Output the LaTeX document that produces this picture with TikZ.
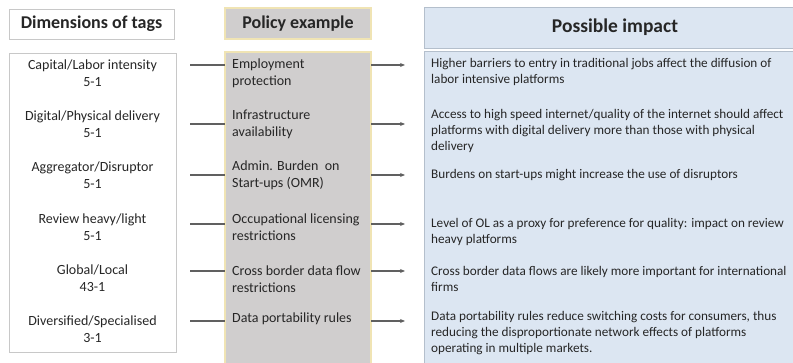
\documentclass[tikz,border=0pt]{standalone}
\usepackage{fontspec}
\setmainfont{Carlito}
\usetikzlibrary{arrows.meta}
\definecolor{polfill}{HTML}{D0CECE}
\definecolor{polborder}{HTML}{F0E4B4}
\definecolor{impfill}{HTML}{DCE6F2}
\definecolor{impborder}{HTML}{B4BFCC}
\definecolor{dimborder}{HTML}{C8C8C8}
\definecolor{txt}{HTML}{262626}
\definecolor{conn}{HTML}{606060}
\tikzset{
  hdr/.style={font=\fontsize{18}{20}\selectfont\bfseries, text=txt},
  dimtxt/.style={font=\fontsize{14}{17}\selectfont, text=txt, align=center, inner sep=0pt, anchor=center},
  poltxt/.style={font=\fontsize{14}{17}\selectfont, text=txt, align=left, inner sep=0pt, anchor=west},
  imptxt/.style={font=\fontsize{13.2}{16}\selectfont, text=txt, align=left, inner sep=0pt, anchor=west},
  link/.style={draw=conn, line width=1.3pt},
  arr/.style={draw=conn, line width=1.3pt, -{Stealth[length=5pt,width=4pt]}},
}
\begin{document}
\begin{tikzpicture}[x=1pt,y=-1pt]
\useasboundingbox (0,0) rectangle (793,363);
% header boxes
\draw[dimborder, line width=0.8pt, fill=white] (9,9) rectangle (174,39);
\draw[polborder, line width=1.2pt, fill=polfill] (225,8) rectangle (371,39);
\draw[impborder, line width=0.8pt, fill=impfill] (424,7) rectangle (806,48);
\node[hdr] (hdim) at (91.5,24) {Dimensions of tags};
\node[hdr] (hpol) at (298,23.5) {Policy example};
\node[hdr, font=\fontsize{19.5}{22}\selectfont\bfseries] (himp) at (615,27.5) {Possible impact};
% main boxes
\draw[dimborder, line width=0.8pt, fill=white] (9,53) rectangle (176,352);
\draw[polborder, line width=1.2pt, fill=polfill] (225,52) rectangle (371,370);
\draw[impborder, line width=0.8pt, fill=impfill] (424,51) rectangle (806,370);
\coordinate (midW) at (225,0);
\coordinate (midE) at (371,0);
% left column
\node[dimtxt] (d1) at (92.5,73) {Capital/Labor intensity\\5-1};
\node[dimtxt] (d2) at (92.5,124) {Digital/Physical delivery\\5-1};
\node[dimtxt] (d3) at (92.5,175) {Aggregator/Disruptor\\5-1};
\node[dimtxt] (d4) at (92.5,227) {Review heavy/light\\5-1};
\node[dimtxt] (d5) at (92.5,278.5) {Global/Local\\43-1};
\node[dimtxt] (d6) at (92.5,329) {Diversified/Specialised\\3-1};
% middle column
\node[poltxt] (p1) at (232,73.5) {Employment\\protection};
\node[poltxt] (p2) at (232,124.5) {Infrastructure\\availability};
\node[poltxt] (p3) at (232,175.5) {Admin. Burden~ on\\Start-ups (OMR)};
\node[poltxt] (p4) at (232,227.5) {Occupational licensing\\restrictions};
\node[poltxt] (p5) at (232,279) {Cross border data flow\\restrictions};
\node[poltxt] (p6) at (232,319) {Data portability rules};
% right column
\node[imptxt] (i1) at (431,72) {Higher barriers to entry in traditional jobs affect the diffusion of\\labor intensive platforms};
\node[imptxt] (i2) at (431,131) {Access to high speed internet/quality of the internet should affect\\platforms with digital delivery more than those with physical\\delivery};
\node[imptxt] (i3) at (431,175) {Burdens on start-ups might increase the use of disruptors};
\node[imptxt] (i4) at (431,232) {Level of OL as a proxy for preference for quality: impact on review\\heavy platforms};
\node[imptxt] (i5) at (431,279) {Cross border data flows are likely more important for international\\firms};
\node[imptxt] (i6) at (431,333.5) {Data portability rules reduce switching costs for consumers, thus\\reducing the disproportionate network effects of platforms\\operating in multiple markets.};
% connectors
\foreach \k/\y in {1/65,2/124,3/175,4/224,5/271,6/321}{
  \coordinate (ls\k) at (190,\y);
  \coordinate (re\k) at (405,\y);
  \draw[link] (ls\k) -- (ls\k -| midW);
  \draw[arr] (re\k -| midE) -- (re\k);
}
\end{tikzpicture}
\end{document}
